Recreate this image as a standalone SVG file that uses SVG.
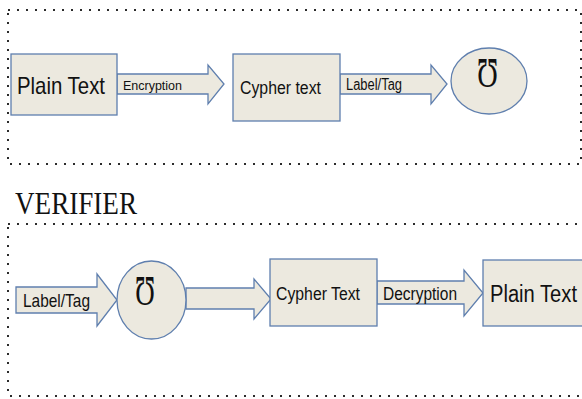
<svg xmlns="http://www.w3.org/2000/svg" width="582" height="399" viewBox="0 0 582 399">
  <style>
    .frame { fill: none; stroke: #2b2b2b; stroke-width: 2; stroke-dasharray: 2 7; }
    .shape { fill: #ecE9df; stroke: #5f7fae; stroke-width: 1.3; }
    .lbl { font-family: "Liberation Sans", Arial, sans-serif; fill: #111; }
    .sym { font-family: "Liberation Serif", "DejaVu Serif", serif; fill: #111; }
    .title { font-family: "Liberation Serif", "Times New Roman", serif; fill: #111; }
  </style>
  <rect width="582" height="399" fill="#fff"/>

  <!-- dotted frames around the two flows -->
  <rect class="frame" x="8" y="10" width="573" height="154"/>
  <text class="title" x="15" y="214" font-size="32" textLength="122" lengthAdjust="spacingAndGlyphs">VERIFIER</text>
  <rect class="frame" x="8" y="224" width="600" height="172"/>

  <!-- block arrows -->
  <g id="connectors">
    <g id="arrow-encryption">
      <polygon class="shape" points="117,74 208,74 208,65 224,84 208,104 208,94 117,94"/>
      <text class="lbl" x="123" y="90" font-size="13" textLength="59" lengthAdjust="spacingAndGlyphs">Encryption</text>
    </g>
    <g id="arrow-tag-top">
      <polygon class="shape" points="340,74 431,74 431,65 447,84 431,104 431,94 340,94"/>
      <text class="lbl" x="346" y="90" font-size="16" textLength="56" lengthAdjust="spacingAndGlyphs">Label/Tag</text>
    </g>
    <g id="arrow-tag-bottom">
      <polygon class="shape" points="16,287 97,287 97,274 117,300 97,326 97,313 16,313"/>
      <text class="lbl" x="23" y="307" font-size="18.5" textLength="67" lengthAdjust="spacingAndGlyphs">Label/Tag</text>
    </g>
    <g id="arrow-mid">
      <polygon class="shape" points="186,288 254,288 254,279 271,299 254,319 254,309 186,309"/>
    </g>
    <g id="arrow-decryption">
      <polygon class="shape" points="377,281 464,281 464,270 483,293 464,316 464,304 377,304"/>
      <text class="lbl" x="383" y="300" font-size="18" textLength="74" lengthAdjust="spacingAndGlyphs">Decryption</text>
    </g>
  </g>

  <!-- top flow -->
  <g id="plain-text-top">
    <rect class="shape" x="11" y="54" width="106" height="61"/>
    <text class="lbl" x="17" y="94" font-size="24" textLength="88" lengthAdjust="spacingAndGlyphs">Plain Text</text>
  </g>
  <g id="cypher-text-top">
    <rect class="shape" x="233" y="54" width="107" height="67"/>
    <text class="lbl" x="240" y="94" font-size="18" textLength="81" lengthAdjust="spacingAndGlyphs">Cypher text</text>
  </g>
  <g id="tag-top">
    <ellipse class="shape" cx="489" cy="81" rx="38" ry="33"/>
    <text class="sym" x="477" y="87" font-size="42" textLength="21" lengthAdjust="spacingAndGlyphs">Ʊ</text>
  </g>

  <!-- verifier flow -->
  <g id="tag-bottom">
    <ellipse class="shape" cx="151.5" cy="300" rx="34.5" ry="39"/>
    <text class="sym" x="135" y="305" font-size="42" textLength="20" lengthAdjust="spacingAndGlyphs">Ʊ</text>
  </g>
  <g id="cypher-text-bottom">
    <rect class="shape" x="270" y="259" width="107" height="67"/>
    <text class="lbl" x="276" y="300" font-size="18" textLength="84" lengthAdjust="spacingAndGlyphs">Cypher Text</text>
  </g>
  <g id="plain-text-bottom">
    <rect class="shape" x="483" y="260" width="120" height="66"/>
    <text class="lbl" x="490" y="302" font-size="23.5" textLength="87" lengthAdjust="spacingAndGlyphs">Plain Text</text>
  </g>
</svg>
